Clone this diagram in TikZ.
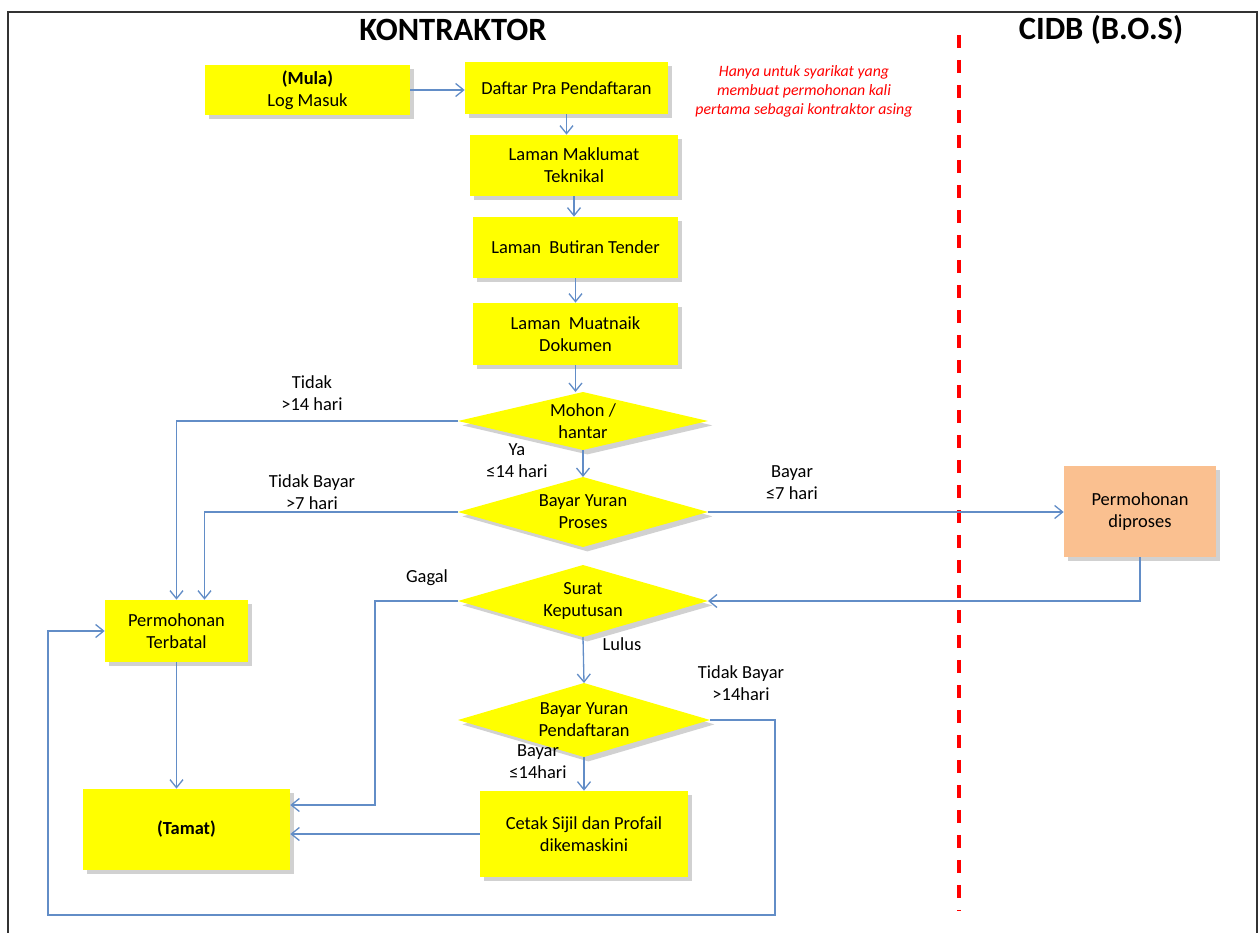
\documentclass[tikz,border=0pt]{standalone}
\usepackage{fontspec}
\setmainfont{Carlito}
\usetikzlibrary{positioning,arrows.meta,calc,shapes.geometric,shadows}

\definecolor{boxyellow}{RGB}{255,255,0}
\definecolor{boxorange}{RGB}{250,192,144}
\definecolor{linkblue}{RGB}{98,141,199}
\definecolor{splitred}{RGB}{255,0,0}

\begin{document}
\begin{tikzpicture}[x=0.02cm, y=-0.02cm,
    every node/.style={font=\fontsize{10.5}{12.5}\selectfont, align=center},
    >={Straight Barb[length=1.6mm,width=2.6mm]},
    flowbox/.style={rectangle, fill=boxyellow, inner sep=2pt,
      drop shadow={shadow xshift=2.5pt, shadow yshift=-2.5pt, fill=black!60, opacity=0.3}},
    decision/.style={diamond, fill=boxyellow, inner sep=0pt, outer sep=0pt,
      drop shadow={shadow xshift=2.5pt, shadow yshift=-2.5pt, fill=black!60, opacity=0.3}},
    link/.style={->, draw=linkblue, line width=0.75pt},
    lanetitle/.style={font=\fontsize{18.5}{20}\selectfont\bfseries}]
    \useasboundingbox (0,0) rectangle (1259,933);

    % Frame and lane split
    \draw[line width=1.2pt, black!80] (8,933) -- (8,12) -- (1257,12) -- (1257,933);
    \draw[splitred, line width=2.3pt, dash pattern=on 0.26cm off 0.24cm] (959,35) -- (959,910);

    \node[lanetitle] (kontraktor) at (453,30) {KONTRAKTOR};
    \node[lanetitle] (cidb) at (1101,30) {CIDB (B.O.S)};

    % Contractor steps
    \node[flowbox, minimum width=4.1cm, minimum height=1.0cm] (mula) at (307.5,90) {\textbf{(Mula)}\\Log Masuk};
    \node[flowbox, minimum width=4.06cm, minimum height=1.04cm] (daftar) at (566.5,88) {Daftar Pra Pendaftaran};
    \node[font=\fontsize{9}{10.8}\selectfont\itshape, text=splitred] (nota) at (804,91)
      {Hanya untuk syarikat yang\\membuat permohonan kali\\pertama sebagai kontraktor asing};
    \node[flowbox, minimum width=4.16cm, minimum height=1.22cm] (maklumat) at (574,165.5) {Laman Maklumat\\Teknikal};
    \node[flowbox, minimum width=4.1cm, minimum height=1.22cm] (butiran) at (575.5,247.5) {Laman\ \ Butiran Tender};
    \node[flowbox, minimum width=4.1cm, minimum height=1.24cm] (muatnaik) at (575.5,334) {Laman\ \ Muatnaik\\Dokumen};

    \node[decision, minimum width=5cm, minimum height=1.16cm, label={center:{Mohon /\\hantar}}] (mohon) at (583,421) {};
    \node[decision, minimum width=5cm, minimum height=1.4cm, label={center:{Bayar Yuran\\Proses}}] (proses) at (583,512) {};
    \node[decision, minimum width=5cm, minimum height=1.44cm, label={center:{Surat\\Keputusan}}] (surat) at (583,601) {};
    \node[decision, minimum width=5.04cm, minimum height=1.48cm, label={center:{Bayar Yuran\\Pendaftaran}}] (pendaftaran) at (584,720) {};

    \node[flowbox, minimum width=2.86cm, minimum height=1.24cm] (terbatal) at (176.5,631) {Permohonan\\Terbatal};
    \node[flowbox, minimum width=4.14cm, minimum height=1.62cm] (tamat) at (186.5,829.5) {\textbf{(Tamat)}};
    \node[flowbox, minimum width=4.16cm, minimum height=1.72cm] (cetak) at (584,834) {Cetak Sijil dan Profail\\dikemaskini};

    % CIDB step
    \node[flowbox, fill=boxorange, minimum width=3.04cm, minimum height=1.82cm] (diproses) at (1140,511.5) {Permohonan\\diproses};

    % Connectors
    \draw[link] (mula.east) -- (mula.east -| daftar.west);
    \draw[link] (daftar.south) -- (daftar.south |- maklumat.north);
    \draw[link] (maklumat.south) -- (maklumat.south |- butiran.north);
    \draw[link] (butiran.south) -- (butiran.south |- muatnaik.north);
    \draw[link] (muatnaik.south) -- (muatnaik.south |- mohon.north);
    \draw[link] (mohon.south) -- (proses.north);
    \draw[link] (mohon.west) -| (terbatal.north);
    \draw[link] (proses.west) -| ($(terbatal.north)+(28,0)$);
    \draw[link] (proses.east) -- (proses.east -| diproses.west);
    \draw[link] (diproses.south) |- (surat.east);
    \coordinate (gagalturn) at (375,805);
    \draw[link] (surat.west) -| (gagalturn) -- (gagalturn -| tamat.east);
    \draw[link] (surat.south) -- (pendaftaran.north);
    \draw[link] (pendaftaran.south) -- (cetak.north);
    \draw[link] (cetak.west) -- (cetak.west -| tamat.east);
    \draw[link] (terbatal.south) -- (terbatal.south |- tamat.north);
    \coordinate (loopright) at (775,915);
    \coordinate (loopleft) at (48,915);
    \draw[link] (pendaftaran.east) -| (loopright) -- (loopleft) |- (terbatal.west);

    % Connector labels
    \node (tidak) at (312,393) {Tidak\\>14 hari};
    \node (tidakbayar) at (312,492) {Tidak Bayar\\>7 hari};
    \node (ya) at (517,461) {Ya\\≤14 hari};
    \node (bayar) at (792,483) {Bayar\\≤7 hari};
    \node (gagal) at (427,578) {Gagal};
    \node (lulus) at (622,644) {Lulus};
    \node (tidakbayarb) at (741,683) {Tidak Bayar\\>14hari};
    \node (bayarb) at (538,762) {Bayar\\≤14hari};
\end{tikzpicture}
\end{document}
